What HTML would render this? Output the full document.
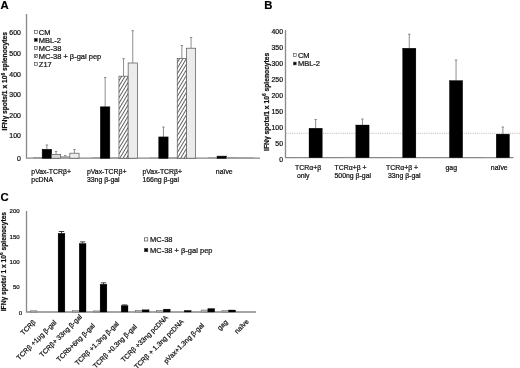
<!DOCTYPE html><html><head><meta charset="utf-8"><title>Figure</title><style>
html,body{margin:0;padding:0;background:#fff;}body{width:520px;height:368px;overflow:hidden;}
svg{display:block;font-family:"Liberation Sans",sans-serif;filter:blur(0.35px);}
.t{font-size:6.9px;fill:#111;stroke:#111;stroke-width:0.22px;}.lg{font-size:7.5px;fill:#111;stroke:#111;stroke-width:0.22px;}.b{font-weight:bold;}.pl{font-size:11.3px;font-weight:bold;fill:#000;stroke:#000;stroke-width:0.2px;}
.ax{stroke:#888;stroke-width:1.3;fill:none;}.eb{stroke:#7a7a7a;stroke-width:0.85;fill:none;}
</style></head><body>
<svg width="520" height="368" viewBox="0 0 520 368">
<defs><pattern id="h" width="2.9" height="2.9" patternUnits="userSpaceOnUse" patternTransform="rotate(-59)"><rect width="2.9" height="2.9" fill="#fff"/><line x1="0" y1="1.45" x2="2.9" y2="1.45" stroke="#4a4a4a" stroke-width="0.85"/></pattern></defs>
<rect width="520" height="368" fill="#fff"/>
<text x="0.5" y="8.7" class="pl" text-anchor="start" >A</text>
<path class="ax" d="M26.5 14V158.2H260"/>
<text x="20.8" y="35.4" class="t" text-anchor="end" >600</text>
<text x="20.8" y="56.4" class="t" text-anchor="end" >500</text>
<text x="20.8" y="76.9" class="t" text-anchor="end" >400</text>
<text x="20.8" y="97.2" class="t" text-anchor="end" >300</text>
<text x="20.8" y="117.60000000000001" class="t" text-anchor="end" >200</text>
<text x="20.8" y="138.1" class="t" text-anchor="end" >100</text>
<text x="20.8" y="161.20000000000002" class="t" text-anchor="end" >0</text>
<text class="t b" text-anchor="middle" transform="translate(7.0,81.2) rotate(-90)" textLength="98.5" lengthAdjust="spacingAndGlyphs">IFNγ spots/1 x 10<tspan font-size="5" dy="-2.5">6</tspan><tspan dy="2.5"> splenocytes</tspan></text>
<rect x="34.3" y="30.400000000000002" width="3" height="3" fill="#fff" stroke="#444" stroke-width="0.6"/>
<text x="38.8" y="34.900000000000006" class="lg" text-anchor="start" >CM</text>
<rect x="34.3" y="38.300000000000004" width="3" height="3" fill="#000" stroke="#444" stroke-width="0.6"/>
<text x="38.8" y="42.800000000000004" class="lg" text-anchor="start" >MBL-2</text>
<rect x="34.3" y="46.300000000000004" width="3" height="3" fill="#ddd" stroke="#444" stroke-width="0.6"/>
<text x="38.8" y="50.800000000000004" class="lg" text-anchor="start" >MC-38</text>
<rect x="34.3" y="54.400000000000006" width="3" height="3" fill="url(#h)" stroke="#444" stroke-width="0.6"/>
<text x="38.8" y="58.900000000000006" class="lg" text-anchor="start" >MC-38 + β-gal pep</text>
<rect x="34.3" y="62.3" width="3" height="3" fill="#eee" stroke="#444" stroke-width="0.6"/>
<text x="38.8" y="66.8" class="lg" text-anchor="start" >Z17</text>
<rect x="33.05" y="157.00" width="9.20" height="1.20" fill="#999" stroke="none"/>
<path class="eb" d="M46.85 149.50V145.00M45.65 145.00H48.05"/>
<rect x="42.25" y="149.50" width="9.20" height="8.70" fill="#000" stroke="#000" stroke-width="0.7"/>
<path class="eb" d="M56.05 154.50V151.50M54.85 151.50H57.25"/>
<rect x="51.45" y="154.50" width="9.20" height="3.70" fill="#d9d9d9" stroke="#555" stroke-width="0.7"/>
<path class="eb" d="M65.25 156.30V155.50M64.05 155.50H66.45"/>
<rect x="60.65" y="156.30" width="9.20" height="1.90" fill="#999" stroke="none"/>
<path class="eb" d="M74.45 153.20V149.50M73.25 149.50H75.65"/>
<rect x="69.85" y="153.20" width="9.20" height="5.00" fill="#ececec" stroke="#555" stroke-width="0.7"/>
<rect x="91.35" y="157.20" width="9.20" height="1.00" fill="#999" stroke="none"/>
<path class="eb" d="M105.15 106.90V77.50M103.95 77.50H106.35"/>
<rect x="100.55" y="106.90" width="9.20" height="51.30" fill="#000" stroke="#000" stroke-width="0.7"/>
<rect x="109.75" y="157.30" width="9.20" height="0.90" fill="#999" stroke="none"/>
<path class="eb" d="M123.55 76.20V58.70M122.35 58.70H124.75"/>
<rect x="118.95" y="76.20" width="9.20" height="82.00" fill="url(#h)" stroke="#555" stroke-width="0.7"/>
<path class="eb" d="M132.75 63.00V30.70M131.55 30.70H133.95"/>
<rect x="128.15" y="63.00" width="9.20" height="95.20" fill="#ececec" stroke="#555" stroke-width="0.7"/>
<rect x="149.65" y="157.40" width="9.20" height="0.80" fill="#999" stroke="none"/>
<path class="eb" d="M163.45 137.00V127.00M162.25 127.00H164.65"/>
<rect x="158.85" y="137.00" width="9.20" height="21.20" fill="#000" stroke="#000" stroke-width="0.7"/>
<rect x="168.05" y="157.30" width="9.20" height="0.90" fill="#999" stroke="none"/>
<path class="eb" d="M181.85 58.50V45.50M180.65 45.50H183.05"/>
<rect x="177.25" y="58.50" width="9.20" height="99.70" fill="url(#h)" stroke="#555" stroke-width="0.7"/>
<path class="eb" d="M191.05 48.20V37.50M189.85 37.50H192.25"/>
<rect x="186.45" y="48.20" width="9.20" height="110.00" fill="#ececec" stroke="#555" stroke-width="0.7"/>
<rect x="207.95" y="157.20" width="9.20" height="1.00" fill="#999" stroke="none"/>
<rect x="217.15" y="156.20" width="9.20" height="2.00" fill="#000" stroke="#000" stroke-width="0.7"/>
<rect x="226.35" y="157.00" width="9.20" height="1.20" fill="#999" stroke="none"/>
<rect x="235.55" y="157.20" width="9.20" height="1.00" fill="#999" stroke="none"/>
<rect x="244.75" y="157.30" width="9.20" height="0.90" fill="#999" stroke="none"/>
<text x="31.3" y="173.6" class="t" text-anchor="start" >pVax-TCRβ+</text>
<text x="31.3" y="181.6" class="t" text-anchor="start" >pcDNA</text>
<text x="86.9" y="173.6" class="t" text-anchor="start" >pVax-TCRβ+</text>
<text x="86.9" y="181.6" class="t" text-anchor="start" >33ng β-gal</text>
<text x="142.4" y="173.6" class="t" text-anchor="start" >pVax-TCRβ+</text>
<text x="142.4" y="181.6" class="t" text-anchor="start" >166ng β-gal</text>
<text x="215.8" y="173.6" class="t" text-anchor="start" >naïve</text>
<text x="264.3" y="8.7" class="pl" text-anchor="start" >B</text>
<path class="ax" d="M285.5 30V157.7H513.5"/>
<text x="283" y="34.1" class="t" text-anchor="end" >400</text>
<text x="283" y="50.14" class="t" text-anchor="end" >350</text>
<text x="283" y="66.17999999999999" class="t" text-anchor="end" >300</text>
<text x="283" y="82.22" class="t" text-anchor="end" >250</text>
<text x="283" y="98.25999999999999" class="t" text-anchor="end" >200</text>
<text x="283" y="114.29999999999998" class="t" text-anchor="end" >150</text>
<text x="283" y="130.34" class="t" text-anchor="end" >100</text>
<text x="283" y="146.38" class="t" text-anchor="end" >50</text>
<text x="283" y="162.42" class="t" text-anchor="end" >0</text>
<text class="t b" text-anchor="middle" transform="translate(268.8,101.8) rotate(-90)" textLength="98.2" lengthAdjust="spacingAndGlyphs">IFNγ spots/1 x 10<tspan font-size="5" dy="-2.5">6</tspan><tspan dy="2.5"> splenocytes</tspan></text>
<rect x="293.4" y="53.6" width="2.8" height="2.8" fill="#fff" stroke="#444" stroke-width="0.6"/>
<text x="297.9" y="57.7" class="lg" text-anchor="start" >CM</text>
<rect x="293.4" y="62.1" width="2.8" height="2.8" fill="#000" stroke="#444" stroke-width="0.6"/>
<text x="297.9" y="66.2" class="lg" text-anchor="start" >MBL-2</text>
<path d="M285.5 133.3H520" stroke="#999" stroke-width="0.65" stroke-dasharray="1.1 1.1" fill="none"/>
<rect x="295.70" y="157.60" width="13.30" height="0.10" fill="#999" stroke="none"/>
<path class="eb" d="M315.65 128.20V119.50M314.45 119.50H316.85"/>
<rect x="309.00" y="128.20" width="13.30" height="29.50" fill="#000" stroke="#000" stroke-width="0.3"/>
<rect x="342.50" y="156.90" width="13.30" height="0.80" fill="#999" stroke="none"/>
<path class="eb" d="M362.45 125.00V119.00M361.25 119.00H363.65"/>
<rect x="355.80" y="125.00" width="13.30" height="32.70" fill="#000" stroke="#000" stroke-width="0.3"/>
<rect x="389.30" y="157.50" width="13.30" height="0.20" fill="#999" stroke="none"/>
<path class="eb" d="M409.25 48.20V34.20M408.05 34.20H410.45"/>
<rect x="402.60" y="48.20" width="13.30" height="109.50" fill="#000" stroke="#000" stroke-width="0.3"/>
<rect x="436.10" y="157.60" width="13.30" height="0.10" fill="#999" stroke="none"/>
<path class="eb" d="M456.05 80.50V60.00M454.85 60.00H457.25"/>
<rect x="449.40" y="80.50" width="13.30" height="77.20" fill="#000" stroke="#000" stroke-width="0.3"/>
<rect x="482.90" y="157.00" width="13.30" height="0.70" fill="#999" stroke="none"/>
<path class="eb" d="M502.85 134.10V127.00M501.65 127.00H504.05"/>
<rect x="496.20" y="134.10" width="13.30" height="23.60" fill="#000" stroke="#000" stroke-width="0.3"/>
<text x="295.0" y="169.7" class="t" text-anchor="start" >TCRα+β</text>
<text x="295.0" y="178.1" class="t" text-anchor="start" > only</text>
<text x="334.5" y="169.7" class="t" text-anchor="start" >TCRα+β +</text>
<text x="334.5" y="178.1" class="t" text-anchor="start" >500ng β-gal</text>
<text x="386" y="169.7" class="t" text-anchor="start" >TCRα+β +</text>
<text x="386" y="178.1" class="t" text-anchor="start" > 33ng β-gal</text>
<text x="445.5" y="169.7" class="t" text-anchor="start" >gag</text>
<text x="490.8" y="169.7" class="t" text-anchor="start" >naïve</text>
<text x="0.4" y="201.0" class="pl" text-anchor="start" >C</text>
<path class="ax" d="M26.5 211V312.0H256"/>
<text x="19.7" y="213.3" class="t" text-anchor="end" style="font-size:6.1px">200</text>
<text x="19.7" y="238.60000000000002" class="t" text-anchor="end" style="font-size:6.1px">150</text>
<text x="19.7" y="263.90000000000003" class="t" text-anchor="end" style="font-size:6.1px">100</text>
<text x="19.7" y="289.2" class="t" text-anchor="end" style="font-size:6.1px">50</text>
<text x="22.2" y="314.5" class="t" text-anchor="end" style="font-size:6.1px">0</text>
<text class="t b" text-anchor="middle" transform="translate(5.7,261.6) rotate(-90)" textLength="99.4" lengthAdjust="spacingAndGlyphs">IFNγ spots/ 1 x 10<tspan font-size="5" dy="-2.5">6</tspan><tspan dy="2.5"> splenocytes</tspan></text>
<rect x="144.6" y="237.8" width="3.2" height="3.2" fill="#fff" stroke="#333" stroke-width="0.6"/>
<text x="150" y="242.1" class="lg" text-anchor="start" >MC-38</text>
<rect x="144.6" y="248.5" width="3.2" height="3.2" fill="#000" stroke="#333" stroke-width="0.6"/>
<text x="150" y="252.79999999999998" class="lg" text-anchor="start" >MC-38 + β-gal pep</text>
<rect x="30.20" y="310.80" width="6.80" height="1.20" fill="#bbb" stroke="#666" stroke-width="0.5"/>
<path class="eb" style="stroke:#222" d="M61.50 233.30V231.50M58.80 231.50H64.20"/>
<rect x="58.10" y="233.30" width="6.80" height="78.70" fill="#000" stroke="#000" stroke-width="0.3"/>
<rect x="72.40" y="310.60" width="6.80" height="1.40" fill="#bbb" stroke="#666" stroke-width="0.5"/>
<path class="eb" style="stroke:#222" d="M82.60 243.50V241.90M79.90 241.90H85.30"/>
<rect x="79.20" y="243.50" width="6.80" height="68.50" fill="#000" stroke="#000" stroke-width="0.3"/>
<rect x="93.30" y="310.90" width="6.80" height="1.10" fill="#bbb" stroke="#666" stroke-width="0.5"/>
<path class="eb" style="stroke:#222" d="M103.50 284.20V282.80M100.80 282.80H106.20"/>
<rect x="100.10" y="284.20" width="6.80" height="27.80" fill="#000" stroke="#000" stroke-width="0.3"/>
<path class="eb" style="stroke:#222" d="M124.60 305.60V304.90M121.90 304.90H127.30"/>
<rect x="121.20" y="305.60" width="6.80" height="6.40" fill="#000" stroke="#000" stroke-width="0.3"/>
<rect x="135.45" y="310.30" width="6.80" height="1.70" fill="#bbb" stroke="#666" stroke-width="0.5"/>
<rect x="142.25" y="309.80" width="6.80" height="2.20" fill="#000" stroke="#000" stroke-width="0.3"/>
<rect x="156.60" y="310.30" width="6.80" height="1.70" fill="#bbb" stroke="#666" stroke-width="0.5"/>
<rect x="163.40" y="309.10" width="6.80" height="2.90" fill="#000" stroke="#000" stroke-width="0.3"/>
<rect x="184.30" y="310.40" width="6.80" height="1.60" fill="#000" stroke="#000" stroke-width="0.3"/>
<rect x="201.10" y="310.00" width="6.80" height="2.00" fill="#bbb" stroke="#666" stroke-width="0.5"/>
<rect x="207.90" y="308.50" width="6.80" height="3.50" fill="#000" stroke="#000" stroke-width="0.3"/>
<rect x="221.95" y="310.60" width="6.80" height="1.40" fill="#bbb" stroke="#666" stroke-width="0.5"/>
<rect x="228.75" y="310.00" width="6.80" height="2.00" fill="#000" stroke="#000" stroke-width="0.3"/>
<text class="t" text-anchor="end" transform="translate(36.10,322.70) rotate(-45)">TCRβ</text>
<text class="t" text-anchor="end" transform="translate(56.90,323.00) rotate(-45)">TCRβ +1μg β-gal</text>
<text class="t" text-anchor="end" transform="translate(82.44,317.26) rotate(-45)">TCRβ+ 33ng β-gal</text>
<text class="t" text-anchor="end" transform="translate(95.32,326.28) rotate(-45)">TCRb+6ng β-gal</text>
<text class="t" text-anchor="end" transform="translate(119.30,324.30) rotate(-45)">TCRβ +1.3ng β-gal</text>
<text class="t" text-anchor="end" transform="translate(137.27,327.13) rotate(-45)">TCRβ +0.3ng β-gal</text>
<text class="t" text-anchor="end" transform="translate(168.43,317.97) rotate(-45)">TCRβ +33ng pcDNA</text>
<text class="t" text-anchor="end" transform="translate(184.35,322.10) rotate(-45)">TCRβ + 1.3ng pcDNA</text>
<text class="t" text-anchor="end" transform="translate(204.48,325.82) rotate(-45)">pVax+1.3ng β-gal</text>
<text class="t" text-anchor="end" transform="translate(228.15,322.50) rotate(-45)">gag</text>
<text class="t" text-anchor="end" transform="translate(249.25,322.10) rotate(-45)">naïve</text>
</svg></body></html>
